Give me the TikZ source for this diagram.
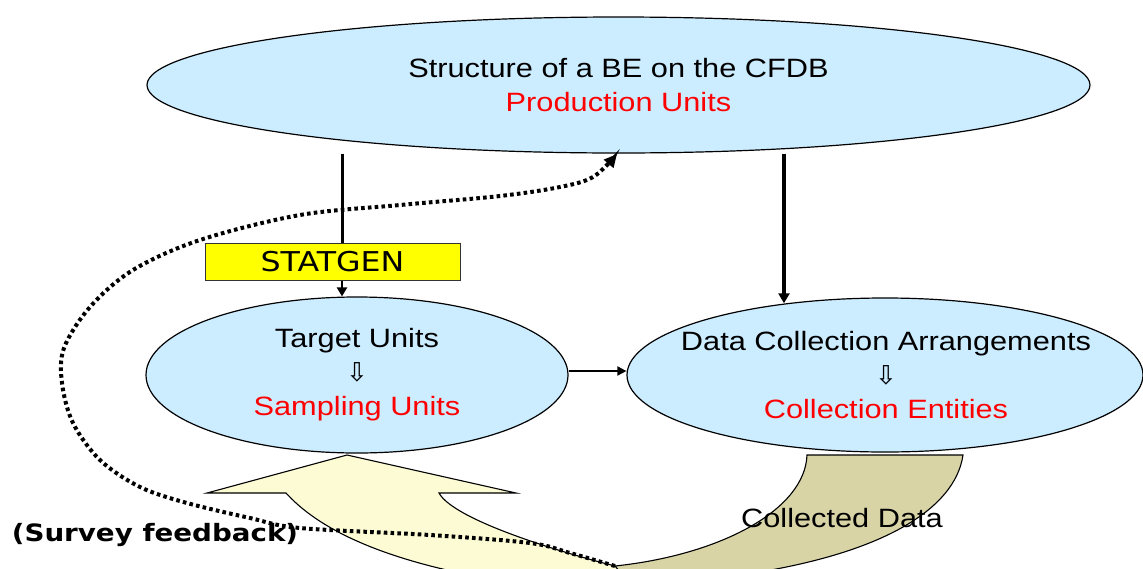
\documentclass[tikz,border=0pt]{standalone}
\usepackage{fontspec}
\setmainfont{Liberation Sans}[FakeStretch=1.16]
\newfontfamily\dvs{DejaVu Sans}[FakeStretch=1.16]
\newfontfamily\dvsplain{DejaVu Sans}
\usetikzlibrary{arrows.meta,shapes.geometric}
\definecolor{ellblue}{HTML}{CCECFF}
\definecolor{arrYellow}{HTML}{FCFBD4}
\definecolor{arrOlive}{HTML}{D8D4A6}
\definecolor{boxYellow}{HTML}{FFFF00}
\definecolor{txtRed}{HTML}{FF0000}
\newcommand\myDownArrow{{\dvsplain\fontsize{26}{34}\selectfont ⇩}}
\begin{document}
\begin{tikzpicture}[x=1pt,y=-1pt,
  ell/.style={ellipse, draw=black, line width=1.2pt, fill=ellblue, inner sep=0pt},
  ltxt/.style={inner sep=0pt, align=center, font=\fontsize{26.5}{34}\selectfont},
  statbox/.style={rectangle, draw=black!80, line width=1pt, fill=boxYellow, inner sep=0pt,
    minimum width=255pt, minimum height=37pt, font=\dvs\fontsize{27.3}{32}\selectfont},
  thickarr/.style={line width=3.5pt, -{Triangle[length=10pt,width=11pt]}},
  midarr/.style={line width=2.2pt, -{Triangle[length=9pt,width=10pt]}},
  thinarr/.style={line width=1.8pt, -{Triangle[length=9pt,width=9pt]}},
  feedback/.style={line width=4pt, dash pattern=on 3.6pt off 3.2pt, -{Triangle[length=13pt,width=12pt]}},
  blockarr/.style={draw=black, line width=1.1pt},
  lbl/.style={inner sep=0pt, font=\fontsize{26.5}{32}\selectfont},
  fblbl/.style={inner sep=0pt, font=\dvs\bfseries\fontsize{23.9}{28}\selectfont}
]
\useasboundingbox (0,0) rectangle (1143,568);

% curved block arrow (collected data -> target units)
\begin{scope}
\clip (0,0) rectangle (1143,568);
\filldraw[blockarr, fill=arrOlive] (807,455) -- (963,455)
  .. controls (955,510) and (880,555) .. (740,575) -- (620,574) -- (615,566)
  .. controls (720,555) and (805,510) .. (807,455) -- cycle;
\filldraw[blockarr, fill=arrYellow] (439,493) -- (516,493) -- (347,455) -- (207,493) -- (286,493)
  .. controls (315,525) and (370,555) .. (470,575) -- (625,578) -- (615,566)
  .. controls (575,556) and (455,522) .. (439,493) -- cycle;
\end{scope}

% ellipses
\node[ell, minimum width=943pt, minimum height=136pt] (top) at (618.5,85) {};
\node[ell, minimum width=422pt, minimum height=156pt] (left) at (357,375) {};
\node[ell, minimum width=516pt, minimum height=154pt] (right) at (885,375) {};

% ellipse texts
\node[ltxt] (topT) at (top.center)
  {Structure of a BE on the CFDB\\ \textcolor{txtRed}{Production Units}};
\node[ltxt] (leftT) at (left.center)
  {Target Units\\ \myDownArrow\\ \textcolor{txtRed}{Sampling Units}};
\node[ltxt] (rightT) at (886,375)
  {Data Collection Arrangements\\ \myDownArrow\\ \textcolor{txtRed}{Collection Entities}};

% STATGEN box
\node[statbox] (stat) at (332.5,261.5) {STATGEN};

% vertical connectors
\coordinate (lx) at (342,0);
\coordinate (rx) at (784,0);
\draw[line width=3pt] (top.south -| lx) -- (lx |- stat.north);
\draw[midarr] (lx |- stat.south) -- (lx |- left.north);
\draw[thickarr] (top.south -| rx) -- (rx |- right.144);

% horizontal connector
\draw[thinarr] ([yshift=4pt]left.east) -- ([yshift=4pt]right.west);

% feedback dotted curve
\coordinate (fbS) at (615,566);
\draw[feedback] plot[smooth, tension=0.55] coordinates {
  (fbS) (570,553) (530,543) (430,535) (300,528) (250,518) (187,503) (140,487)
  (100,460) (73,423) (62,383) (64,348) (90,307) (133,270) (200,240) (300,215)
  (400,205) (500,196) (560,187) (593,177) (617,154)};

% labels
\node[lbl] (coll) at (842,518) {Collected Data};
\node[fblbl] (fb) at (155,535) {(Survey feedback)};
\end{tikzpicture}
\end{document}
